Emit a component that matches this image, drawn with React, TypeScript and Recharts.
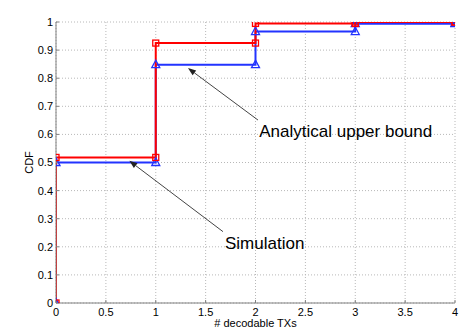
import React from 'react';
import { LineChart, Line, XAxis, YAxis, CartesianGrid, ReferenceLine, ReferenceDot } from 'recharts';

const txCounts = [0, 1, 2, 3, 4];
const simulationCdf = [0.518, 0.925, 0.995, 1.0, 1.0];
const upperBoundCdf = [0.5, 0.848, 0.966, 0.994, 0.996];
const xTicks = [0, 0.5, 1, 1.5, 2, 2.5, 3, 3.5, 4];
const yTicks = [0, 0.1, 0.2, 0.3, 0.4, 0.5, 0.6, 0.7, 0.8, 0.9, 1];

// annotation anchors in data coordinates: [tailX, tailY, headX, headY]
const simulationArrow = [1.674, 0.254, 0.735, 0.506];
const boundArrow = [2.025, 0.651, 1.323, 0.836];
const simulationText = { x: 1.694, y: 0.192, label: 'Simulation' };
const boundText = { x: 2.038, y: 0.591, label: 'Analytical upper bound' };

const FONT = '"Liberation Sans", Arial, Helvetica, sans-serif';

function stairs(xs: number[], ys: number[]) {
  const pts: { x: number; y: number }[] = [{ x: xs[0], y: 0 }];
  ys.forEach((y, i) => {
    pts.push({ x: xs[i], y });
    if (i + 1 < xs.length) pts.push({ x: xs[i + 1], y });
  });
  return pts;
}

const simData = stairs(txCounts, simulationCdf);
const boundData = stairs(txCounts, upperBoundCdf);

const SquareDot = (props: any) => {
  const { cx, cy } = props;
  if (cx == null || cy == null) return null;
  return <rect x={cx - 3} y={cy - 3} width={6} height={6} fill="none" stroke="#ff0000" strokeWidth={1.3} />;
};

const TriangleDot = (props: any) => {
  const { cx, cy } = props;
  if (cx == null || cy == null) return null;
  return (
    <polygon
      points={`${cx},${cy - 4.5} ${cx - 4},${cy + 3} ${cx + 4},${cy + 3}`}
      fill="none"
      stroke="#2233ff"
      strokeWidth={1.3}
    />
  );
};

const ArrowShape = (p: any) => {
  const { x1, y1, x2, y2 } = p;
  if (x1 == null) return null;
  const ang = Math.atan2(y2 - y1, x2 - x1);
  const len = 8;
  const w = 3;
  const bx = x2 - len * Math.cos(ang);
  const by = y2 - len * Math.sin(ang);
  const px = -Math.sin(ang) * w;
  const py = Math.cos(ang) * w;
  return (
    <g>
      <line x1={x1} y1={y1} x2={bx} y2={by} stroke="#444" strokeWidth={1} />
      <polygon points={`${x2},${y2} ${bx + px},${by + py} ${bx - px},${by - py}`} fill="#222" />
    </g>
  );
};

const textShape = (label: string) => (p: any) => {
  const { cx, cy } = p;
  if (cx == null) return null;
  return (
    <text x={cx} y={cy} fontFamily={FONT} fontSize={17} fill="#000" textAnchor="start">
      {label}
    </text>
  );
};

export default function App() {
  return (
    <div style={{ position: 'absolute', left: 0, top: 0, width: 463, height: 331, background: '#fff' }}>
      <LineChart width={463} height={331} margin={{ top: 22, right: 8, bottom: 0, left: 0 }}>
        <CartesianGrid stroke="#b8b8b8" strokeDasharray="1 2" />
        <XAxis
          type="number"
          dataKey="x"
          domain={[0, 4]}
          ticks={xTicks}
          interval={0}
          allowDataOverflow
          height={28}
          stroke="#808080"
          tickSize={-3}
          tickMargin={8}
          tick={{ fill: '#000', fontSize: 11, fontFamily: FONT }}
          label={{ value: '# decodable TXs', position: 'insideBottom', offset: 4, fill: '#000', fontSize: 11, fontFamily: FONT }}
        />
        <YAxis
          type="number"
          dataKey="y"
          domain={[0, 1]}
          ticks={yTicks}
          interval={0}
          allowDataOverflow
          width={56}
          stroke="#808080"
          tickSize={-3}
          tickMargin={6}
          tick={{ fill: '#000', fontSize: 11, fontFamily: FONT }}
          label={{
            content: (props: any) => {
              const vb = props.viewBox || {};
              const cx = (vb.x || 0) + 29;
              const cy = (vb.y || 0) + (vb.height || 0) / 2;
              return (
                <text
                  x={cx}
                  y={cy}
                  transform={`rotate(-90 ${cx} ${cy})`}
                  textAnchor="middle"
                  dominantBaseline="central"
                  fontFamily={FONT}
                  fontSize={11}
                  fill="#000"
                >
                  CDF
                </text>
              );
            },
          }}
        />
        <Line
          data={boundData}
          dataKey="y"
          type="linear"
          stroke="#2233ff"
          strokeWidth={2}
          dot={<TriangleDot />}
          activeDot={false}
          isAnimationActive={false}
        />
        <Line
          data={simData}
          dataKey="y"
          type="linear"
          stroke="#ff0000"
          strokeWidth={2}
          dot={<SquareDot />}
          activeDot={false}
          isAnimationActive={false}
        />
        <ReferenceLine
          segment={[
            { x: simulationArrow[0], y: simulationArrow[1] },
            { x: simulationArrow[2], y: simulationArrow[3] },
          ]}
          shape={ArrowShape}
          ifOverflow="visible"
        />
        <ReferenceLine
          segment={[
            { x: boundArrow[0], y: boundArrow[1] },
            { x: boundArrow[2], y: boundArrow[3] },
          ]}
          shape={ArrowShape}
          ifOverflow="visible"
        />
        <ReferenceDot x={simulationText.x} y={simulationText.y} r={0} shape={textShape(simulationText.label)} ifOverflow="visible" />
        <ReferenceDot x={boundText.x} y={boundText.y} r={0} shape={textShape(boundText.label)} ifOverflow="visible" />
      </LineChart>
    </div>
  );
}
